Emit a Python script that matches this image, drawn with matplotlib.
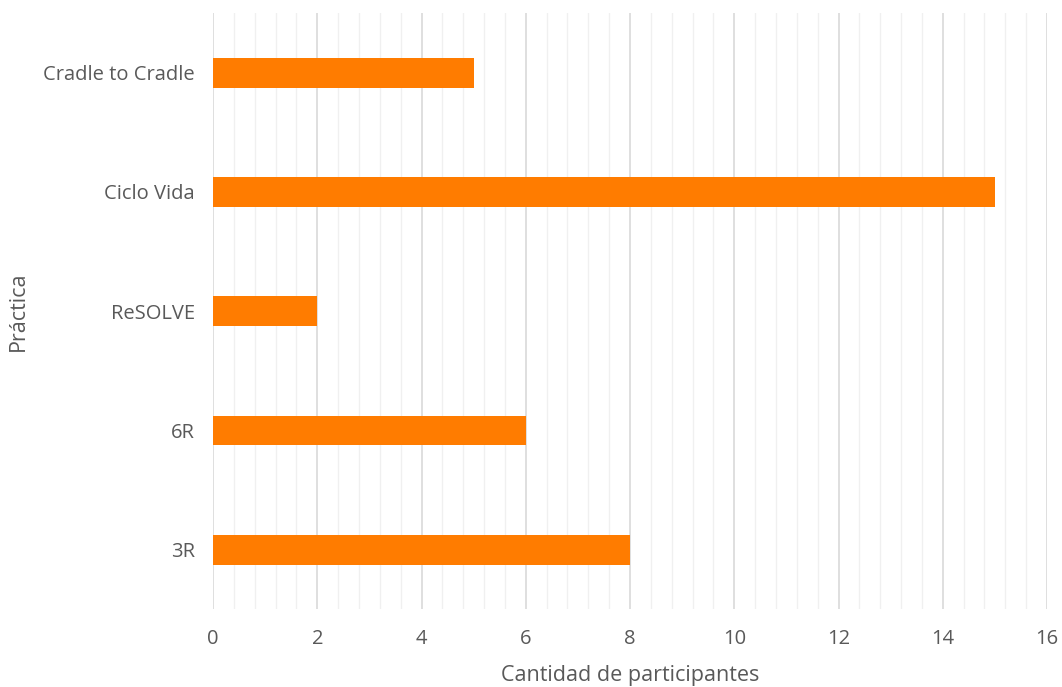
import matplotlib.pyplot as plt
from matplotlib.ticker import MultipleLocator

practicas = ["3R", "6R", "ReSOLVE", "Ciclo Vida", "Cradle to Cradle"]
participantes = [8, 6, 2, 15, 5]

plt.rcParams['font.family'] = ['Open Sans', 'DejaVu Sans']

fig = plt.figure(figsize=(10.62, 6.87), dpi=100)
ax = fig.add_axes([0.2006, 0.113, 0.7853, 0.868])
ax.barh(practicas, participantes, height=0.25, color='#FF7C00', zorder=3)

ax.set_xlim(0, 16)
ax.set_ylim(-0.5, 4.5)
ax.xaxis.set_major_locator(MultipleLocator(2))
ax.xaxis.set_minor_locator(MultipleLocator(0.4))
ax.grid(axis='x', which='major', color='#D9D9D9', linewidth=1.2, zorder=0)
ax.grid(axis='x', which='minor', color='#F0F0F0', linewidth=1.0, zorder=0)
for s in ax.spines.values():
    s.set_visible(False)
ax.tick_params(which='both', length=0, colors='#595959', labelsize=14.5)
ax.tick_params(axis='x', pad=14)
ax.tick_params(axis='y', pad=13)
ax.set_xlabel("Cantidad de participantes", fontsize=15.5, color='#595959', labelpad=12)
ax.set_ylabel("Práctica", fontsize=15.5, color='#595959')
ax.yaxis.set_label_coords(-0.221, 0.5)

fig.savefig("out.png", dpi=100)
